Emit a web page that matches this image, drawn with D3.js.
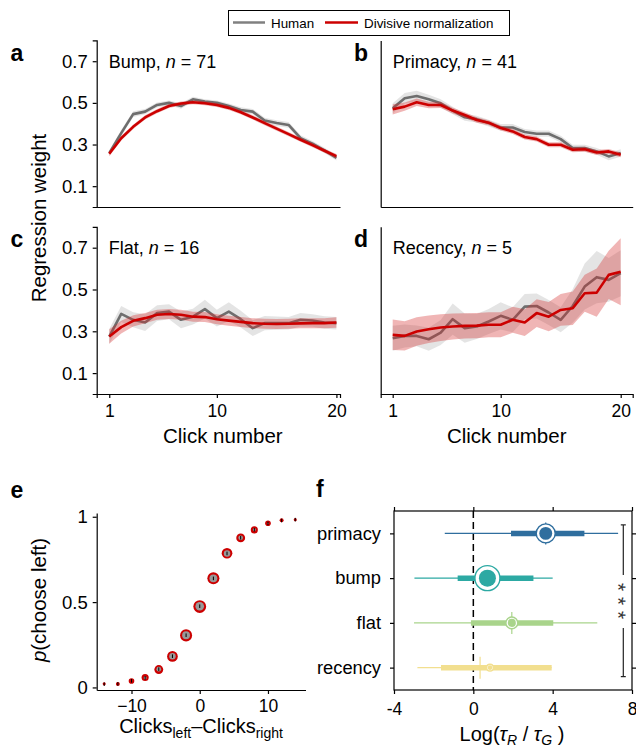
<!DOCTYPE html>
<html>
<head>
<meta charset="utf-8">
<script src="https://cdn.jsdelivr.net/npm/d3@7"></script>
<style>
  body { margin: 0; background: #fff; }
  svg { font-family: "Liberation Sans", Arial, sans-serif; }
  .axis path, .axis line { stroke: #000; stroke-width: 1.2px; }
  .axis text { fill: #000; }
  .stars { fill: #333; -webkit-font-smoothing: antialiased; text-rendering: geometricPrecision; }
</style>
</head>
<body>
<div id="chart"></div>
<script>
// click positions shared by panels a-d
var clickNums = [1, 2, 3, 4, 5, 6, 7, 8, 9, 10, 11, 12, 13, 14, 15, 16, 17, 18, 19, 20];

// a: bump
var bumpHuman   = [0.259, 0.355, 0.446, 0.458, 0.490, 0.500, 0.485, 0.517, 0.506, 0.500, 0.485, 0.466, 0.458, 0.415, 0.403, 0.394, 0.331, 0.304, 0.272, 0.236];
var bumpHumanSE = [0.012, 0.015, 0.014, 0.013, 0.012, 0.012, 0.013, 0.012, 0.012, 0.012, 0.012, 0.013, 0.013, 0.013, 0.014, 0.014, 0.013, 0.013, 0.013, 0.013];
var bumpModel   = [0.256, 0.330, 0.385, 0.430, 0.460, 0.485, 0.497, 0.503, 0.498, 0.490, 0.476, 0.455, 0.430, 0.403, 0.376, 0.350, 0.323, 0.297, 0.270, 0.244];
var bumpModelSE = [0.012, 0.011, 0.010, 0.010, 0.010, 0.010, 0.010, 0.010, 0.010, 0.010, 0.010, 0.010, 0.010, 0.010, 0.010, 0.010, 0.010, 0.010, 0.010, 0.011];

// b: primacy
var primHuman   = [0.474, 0.522, 0.533, 0.517, 0.498, 0.463, 0.431, 0.422, 0.403, 0.382, 0.382, 0.360, 0.352, 0.352, 0.326, 0.283, 0.283, 0.267, 0.243, 0.259];
var primHumanSE = [0.024, 0.025, 0.025, 0.022, 0.020, 0.018, 0.017, 0.016, 0.016, 0.016, 0.016, 0.015, 0.015, 0.015, 0.016, 0.016, 0.016, 0.016, 0.018, 0.018];
var primModel   = [0.469, 0.482, 0.503, 0.490, 0.490, 0.463, 0.442, 0.418, 0.405, 0.379, 0.363, 0.336, 0.326, 0.299, 0.299, 0.275, 0.277, 0.262, 0.267, 0.251];
var primModelSE = [0.025, 0.020, 0.018, 0.016, 0.015, 0.014, 0.013, 0.013, 0.012, 0.012, 0.012, 0.012, 0.012, 0.012, 0.012, 0.012, 0.012, 0.012, 0.012, 0.012];

// c: flat
var flatHuman   = [0.275, 0.383, 0.355, 0.342, 0.387, 0.394, 0.355, 0.370, 0.406, 0.363, 0.394, 0.358, 0.315, 0.339, 0.339, 0.339, 0.355, 0.352, 0.342, 0.339];
var flatHumanSE = [0.036, 0.038, 0.036, 0.040, 0.038, 0.036, 0.040, 0.038, 0.045, 0.040, 0.045, 0.040, 0.038, 0.034, 0.032, 0.030, 0.032, 0.030, 0.030, 0.030];
var flatModel   = [0.275, 0.320, 0.350, 0.363, 0.379, 0.383, 0.379, 0.370, 0.368, 0.358, 0.351, 0.345, 0.339, 0.336, 0.335, 0.336, 0.338, 0.339, 0.339, 0.342];
var flatModelSE = [0.035, 0.030, 0.027, 0.025, 0.024, 0.024, 0.024, 0.024, 0.024, 0.024, 0.024, 0.024, 0.024, 0.024, 0.024, 0.024, 0.024, 0.024, 0.024, 0.025];

// d: recency
var recHuman    = [0.267, 0.278, 0.278, 0.262, 0.294, 0.358, 0.315, 0.323, 0.347, 0.374, 0.355, 0.418, 0.421, 0.390, 0.355, 0.421, 0.514, 0.559, 0.546, 0.578];
var recHumanSE  = [0.060, 0.055, 0.050, 0.055, 0.060, 0.075, 0.070, 0.060, 0.060, 0.065, 0.060, 0.060, 0.060, 0.060, 0.060, 0.080, 0.110, 0.125, 0.105, 0.110];
var recModel    = [0.283, 0.278, 0.299, 0.310, 0.318, 0.323, 0.326, 0.327, 0.331, 0.331, 0.355, 0.342, 0.387, 0.370, 0.402, 0.410, 0.482, 0.485, 0.570, 0.585];
var recModelSE  = [0.073, 0.070, 0.068, 0.066, 0.064, 0.062, 0.060, 0.060, 0.060, 0.060, 0.062, 0.064, 0.066, 0.070, 0.076, 0.080, 0.088, 0.115, 0.115, 0.160];

var weightTicks = [0.1, 0.3, 0.5, 0.7];
var clickTicks = [1, 10, 20];

// e: psychometric curve
var clickDiff   = [-14, -12, -10, -8, -6, -4, -2, 0, 2, 4, 6, 8, 10, 12, 14];
var pLeftHuman  = [0.019, 0.021, 0.039, 0.056, 0.107, 0.183, 0.306, 0.476, 0.639, 0.785, 0.877, 0.924, 0.961, 0.978, 0.983];
var pLeftModel  = [0.021, 0.020, 0.038, 0.058, 0.105, 0.182, 0.305, 0.474, 0.640, 0.786, 0.876, 0.923, 0.962, 0.980, 0.983];
var trialShare  = [0.03, 0.05, 0.10, 0.16, 0.25, 0.36, 0.46, 0.52, 0.46, 0.36, 0.25, 0.16, 0.10, 0.05, 0.03];
var pTicks = [0, 0.5, 1];
var diffTicks = [-10, 0, 10];

// f: log(tau_R / tau_G) by group
var groups      = ["primacy", "bump", "flat", "recency"];
var groupN      = [41, 71, 16, 5];
var tauMean     = [3.65, 0.71, 1.94, 0.84];
var tauMedian   = [3.65, 0.71, 1.94, 0.34];
var tauInnerLo  = [1.90, -0.79, -0.12, -1.63];
var tauInnerHi  = [5.60, 3.03, 4.03, 3.95];
var tauOuterLo  = [-1.44, -2.97, -2.99, -2.82];
var tauOuterHi  = [7.30, 4.00, 6.25, 3.95];
var groupColors = ["#2f6e9e", "#2ca9a3", "#a9d48b", "#f2df8f"];
var tauTicks = [-4, 0, 4, 8];

var font = '"Liberation Sans", Arial, sans-serif';
var humanColor = "#6e6e6e", modelColor = "#cc0000";
var yTickSize = "18.5px", xTickSize = "17.5px";

var svg = d3.select("#chart").append("svg")
  .attr("width", 636)
  .attr("height", 750);

// ---- legend
var leg = svg.append("g");
leg.append("rect").attr("x", 228.5).attr("y", 10.5).attr("width", 281).attr("height", 25)
  .attr("fill", "#fff").attr("stroke", "#000").attr("stroke-width", 1);
leg.append("line").attr("x1", 233).attr("x2", 265).attr("y1", 22.5).attr("y2", 22.5)
  .attr("stroke", "#808080").attr("stroke-width", 2.5);
leg.append("text").attr("x", 271).attr("y", 28).attr("font-size", 13.4).text("Human");
leg.append("line").attr("x1", 325).attr("x2", 358).attr("y1", 22.5).attr("y2", 22.5)
  .attr("stroke", modelColor).attr("stroke-width", 2.5);
leg.append("text").attr("x", 364).attr("y", 28).attr("font-size", 13.4).text("Divisive normalization");

// ---- panels a-d
var linePanels = [
  { letter: "a", name: "Bump",    n: 71, human: bumpHuman, humanSE: bumpHumanSE, model: bumpModel, modelSE: bumpModelSE,
    left: 96.7, right: 340, top: 40.4, bottom: 207, xdom: [-0.05, 20.3], letterX: 10.5, yLabels: true,  xLabels: false },
  { letter: "b", name: "Primacy", n: 41, human: primHuman, humanSE: primHumanSE, model: primModel, modelSE: primModelSE,
    left: 380.7, right: 632.7, top: 40.4, bottom: 207, xdom: [0, 21], letterX: 354, yLabels: false, xLabels: false },
  { letter: "c", name: "Flat",    n: 16, human: flatHuman, humanSE: flatHumanSE, model: flatModel, modelSE: flatModelSE,
    left: 96.7, right: 340, top: 226.8, bottom: 394, xdom: [-0.05, 20.3], letterX: 10.5, yLabels: true,  xLabels: true },
  { letter: "d", name: "Recency", n: 5,  human: recHuman,  humanSE: recHumanSE,  model: recModel,  modelSE: recModelSE,
    left: 380.7, right: 632.7, top: 226.8, bottom: 394, xdom: [0, 21], letterX: 354, yLabels: false, xLabels: true }
];

linePanels.forEach(function(p) {
  var x = d3.scaleLinear().domain(p.xdom).range([p.left, p.right]);
  var y = d3.scaleLinear().domain([0, 0.8]).range([p.bottom, p.top]);
  var g = svg.append("g");

  var rows = clickNums.map(function(c, i) {
    return { c: c, h: p.human[i], hs: p.humanSE[i], m: p.model[i], ms: p.modelSE[i] };
  });

  var area = function(v, s) {
    return d3.area().x(function(d) { return x(d.c); })
      .y0(function(d) { return y(d[v] - d[s]); })
      .y1(function(d) { return y(d[v] + d[s]); });
  };
  var line = function(v) {
    return d3.line().x(function(d) { return x(d.c); }).y(function(d) { return y(d[v]); });
  };

  g.append("path").datum(rows).attr("d", area("h", "hs"))
    .attr("fill", "#c4c4c4").attr("fill-opacity", 0.45);
  g.append("path").datum(rows).attr("d", line("h"))
    .attr("fill", "none").attr("stroke", humanColor).attr("stroke-width", 2.6).attr("stroke-linejoin", "round");
  g.append("path").datum(rows).attr("d", area("m", "ms"))
    .attr("fill", "#d42a2a").attr("fill-opacity", 0.35);
  g.append("path").datum(rows).attr("d", line("m"))
    .attr("fill", "none").attr("stroke", modelColor).attr("stroke-width", 2.6).attr("stroke-linejoin", "round");

  var yAxis = d3.axisLeft(y).tickSizeOuter(0);
  if (p.yLabels) {
    yAxis.tickValues(weightTicks).tickSize(4).tickPadding(5).tickFormat(d3.format(".1f"));
  } else {
    yAxis.tickValues([]);
  }
  g.append("g").attr("class", "axis").attr("transform", "translate(" + p.left + ",0)").call(yAxis)
    .attr("font-family", font)
    .selectAll("text").style("font-size", yTickSize);

  var xAxis = d3.axisBottom(x).tickSizeOuter(0);
  if (p.xLabels) {
    xAxis.tickValues(clickTicks).tickSize(4).tickPadding(7);
  } else {
    xAxis.tickValues([]);
  }
  g.append("g").attr("class", "axis").attr("transform", "translate(0," + p.bottom + ")").call(xAxis)
    .attr("font-family", font)
    .selectAll("text").style("font-size", xTickSize);

  if (p.xLabels) {
    g.append("text").attr("x", x(10.5)).attr("y", p.bottom + 49).attr("text-anchor", "middle")
      .attr("font-size", 20.5).text("Click number");
  }

  var t = g.append("text").attr("x", p.left + 12).attr("y", p.top + 27.3).attr("font-size", 18);
  t.append("tspan").text(p.name + ", ");
  t.append("tspan").attr("font-style", "italic").text("n");
  t.append("tspan").text(" = " + p.n);

  g.append("text").attr("x", p.letterX).attr("y", p.top + 20.5)
    .attr("font-size", 23).attr("font-weight", "bold").text(p.letter);
});

svg.append("text")
  .attr("transform", "translate(46,218) rotate(-90)")
  .attr("text-anchor", "middle").attr("font-size", 20.5)
  .text("Regression weight");

// ---- panel e
(function() {
  var x = d3.scaleLinear().domain([-15.1, 15.5]).range([96.7, 305.5]);
  var y = d3.scaleLinear().domain([-0.015, 1.022]).range([690, 513]);
  var r = d3.scaleSqrt().domain([0, d3.max(trialShare)]).range([0, 6.4]);
  var g = svg.append("g");

  g.append("g").attr("class", "axis").attr("transform", "translate(96.7,0)")
    .call(d3.axisLeft(y).tickValues(pTicks).tickSize(4).tickPadding(5).tickSizeOuter(0)
      .tickFormat(function(d) { return d3.format("")(d); }))
    .attr("font-family", font)
    .selectAll("text").style("font-size", yTickSize);
  g.append("g").attr("class", "axis").attr("transform", "translate(0,690)")
    .call(d3.axisBottom(x).tickValues(diffTicks).tickSize(4).tickPadding(6).tickSizeOuter(0))
    .attr("font-family", font)
    .selectAll("text").style("font-size", xTickSize);

  var pts = clickDiff.map(function(d, i) {
    return { d: d, h: pLeftHuman[i], m: pLeftModel[i], s: trialShare[i] };
  });
  var pt = g.selectAll(".pt").data(pts).enter().append("g").attr("class", "pt");
  pt.append("circle")
    .attr("cx", function(d) { return x(d.d); })
    .attr("cy", function(d) { return y(d.m); })
    .attr("r", function(d) { return Math.max(r(d.s), 1.4); })
    .attr("fill", "#cc0000");
  pt.append("circle")
    .attr("cx", function(d) { return x(d.d); })
    .attr("cy", function(d) { return y(d.h); })
    .attr("r", function(d) { return Math.max(r(d.s) - 2.1, 0); })
    .attr("fill", "#999");
  pt.append("line")
    .attr("x1", function(d) { return x(d.d); })
    .attr("x2", function(d) { return x(d.d); })
    .attr("y1", function(d) { return y(d.h) - 1.8; })
    .attr("y2", function(d) { return y(d.h) + 1.8; })
    .attr("stroke", "#000").attr("stroke-width", 1);

  var xl = g.append("text").attr("x", 201).attr("y", 733).attr("text-anchor", "middle").attr("font-size", 20);
  xl.append("tspan").text("Clicks");
  xl.append("tspan").attr("font-size", 14).attr("dy", 5).text("left");
  xl.append("tspan").attr("dy", -5).text("\u2013Clicks");
  xl.append("tspan").attr("font-size", 14).attr("dy", 5).text("right");

  var yl = svg.append("text").attr("transform", "translate(46,600) rotate(-90)")
    .attr("text-anchor", "middle").attr("font-size", 20.5);
  yl.append("tspan").attr("font-style", "italic").text("p");
  yl.append("tspan").text("(choose left)");

  svg.append("text").attr("x", 10.5).attr("y", 498).attr("font-size", 23).attr("font-weight", "bold").text("e");
})();

// ---- panel f
(function() {
  var left = 394, right = 632, top = 511, bottom = 690;
  var x = d3.scaleLinear().domain([-4, 8]).range([left, right]);
  var y = d3.scalePoint().domain(groups).range([top, bottom]).padding(0.5);
  var rad = d3.scaleSqrt().domain([0, d3.max(groupN)]).range([0, 12.5]);
  var g = svg.append("g");

  g.append("rect").attr("x", left).attr("y", top).attr("width", right - left).attr("height", bottom - top)
    .attr("fill", "none").attr("stroke", "#000").attr("stroke-width", 1.2);

  g.append("g").attr("class", "axis").attr("transform", "translate(0," + bottom + ")")
    .call(d3.axisBottom(x).tickValues(tauTicks).tickSize(4).tickPadding(9).tickSizeOuter(0)
      .tickFormat(function(d) { return String(d); }))
    .attr("font-family", font)
    .selectAll("text").style("font-size", xTickSize);
  g.append("g").attr("class", "axis").attr("transform", "translate(0," + top + ")")
    .call(d3.axisTop(x).tickValues(tauTicks).tickSize(4).tickSizeOuter(0).tickFormat(""));
  g.append("g").attr("class", "axis").attr("transform", "translate(" + left + ",0)")
    .call(d3.axisLeft(y).tickSize(4).tickPadding(9).tickSizeOuter(0))
    .attr("font-family", font)
    .selectAll("text").style("font-size", "18.3px");
  g.append("g").attr("class", "axis").attr("transform", "translate(" + right + ",0)")
    .call(d3.axisRight(y).tickSize(4).tickSizeOuter(0).tickFormat(""));
  g.selectAll(".axis .domain").remove();

  g.append("line").attr("x1", x(0)).attr("x2", x(0)).attr("y1", top).attr("y2", bottom)
    .attr("stroke", "#000").attr("stroke-width", 1.5).attr("stroke-dasharray", "7,4");

  var rows = groups.map(function(k, i) {
    return { k: k, n: groupN[i], mean: tauMean[i], med: tauMedian[i],
      lo: tauInnerLo[i], hi: tauInnerHi[i], lo2: tauOuterLo[i], hi2: tauOuterHi[i], c: groupColors[i] };
  });
  var row = g.selectAll(".row").data(rows).enter().append("g").attr("class", "row");
  row.append("line")
    .attr("x1", function(d) { return x(d.lo2); }).attr("x2", function(d) { return x(d.hi2); })
    .attr("y1", function(d) { return y(d.k); }).attr("y2", function(d) { return y(d.k); })
    .attr("stroke", function(d) { return d.c; }).attr("stroke-width", 1.3);
  row.append("line")
    .attr("x1", function(d) { return x(d.lo); }).attr("x2", function(d) { return x(d.hi); })
    .attr("y1", function(d) { return y(d.k); }).attr("y2", function(d) { return y(d.k); })
    .attr("stroke", function(d) { return d.c; }).attr("stroke-width", 5.5);
  row.append("line")
    .attr("x1", function(d) { return x(d.med); }).attr("x2", function(d) { return x(d.med); })
    .attr("y1", function(d) { return y(d.k) - 11; }).attr("y2", function(d) { return y(d.k) + 11; })
    .attr("stroke", function(d) { return d.c; }).attr("stroke-width", 1.2);
  row.append("circle")
    .attr("cx", function(d) { return x(d.mean); }).attr("cy", function(d) { return y(d.k); })
    .attr("r", function(d) { return rad(d.n); })
    .attr("fill", "#fff").attr("stroke", function(d) { return d.c; }).attr("stroke-width", 1.4);
  row.append("circle")
    .attr("cx", function(d) { return x(d.mean); }).attr("cy", function(d) { return y(d.k); })
    .attr("r", function(d) { return rad(d.n) * 0.68; })
    .attr("fill", function(d) { return d.c; });

  // significance bracket primacy vs recency
  var bx = 623.3, yTop = y("primacy") - 8.5, yBot = y("recency") + 9;
  var br = g.append("g").attr("stroke", "#222").attr("stroke-width", 1.2);
  br.append("line").attr("x1", bx).attr("x2", bx).attr("y1", yTop).attr("y2", 575);
  br.append("line").attr("x1", bx).attr("x2", bx).attr("y1", 628).attr("y2", yBot);
  br.append("line").attr("x1", bx - 2.5).attr("x2", bx + 2.5).attr("y1", yTop).attr("y2", yTop);
  br.append("line").attr("x1", bx - 2.5).attr("x2", bx + 2.5).attr("y1", yBot).attr("y2", yBot);
  // three stacked stars as one rotated text
  g.append("text").attr("class", "stars")
    .attr("transform", "translate(" + (bx - 12.2) + ",601) rotate(90)")
    .attr("text-anchor", "middle").attr("font-size", 21)
    .text("* * *");

  var xl = g.append("text").attr("x", 512).attr("y", 741).attr("text-anchor", "middle").attr("font-size", 20);
  xl.append("tspan").text("Log(");
  xl.append("tspan").attr("font-style", "italic").text("\u03c4");
  xl.append("tspan").attr("font-style", "italic").attr("font-size", 14).attr("dy", 4).text("R");
  xl.append("tspan").attr("dy", -4).text(" / ");
  xl.append("tspan").attr("font-style", "italic").text("\u03c4");
  xl.append("tspan").attr("font-style", "italic").attr("font-size", 14).attr("dy", 4).text("G");
  xl.append("tspan").attr("dy", -4).text(" )");

  svg.append("text").attr("x", 316).attr("y", 497).attr("font-size", 23).attr("font-weight", "bold").text("f");
})();
</script>
</body>
</html>
